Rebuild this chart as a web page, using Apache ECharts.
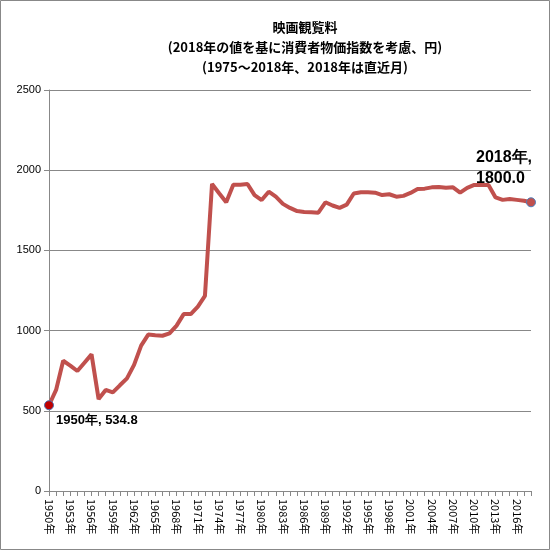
<!DOCTYPE html>
<html><head><meta charset="utf-8">
<script src="https://cdn.jsdelivr.net/npm/echarts@6/dist/echarts.min.js"></script>
<style>body{margin:0}#c{width:551px;height:551px}</style>
</head><body><div id="c"></div>
<script>
const years = [];
for (let y = 1950; y <= 2018; y++) years.push(y + "年");
const prices = [
  534.8, 630, 812, 782, 748, 800, 852, 573, 630, 615,
  659, 702, 786, 906, 975, 971, 968, 983, 1031, 1103,
  1103, 1149, 1216, 1914, 1856, 1800, 1909, 1910, 1914, 1845,
  1814, 1866, 1835, 1790, 1765, 1745, 1740, 1738, 1735, 1800,
  1780, 1765, 1785, 1855, 1862, 1862, 1860, 1845, 1850, 1835,
  1840, 1858, 1883, 1885, 1893, 1895, 1890, 1893, 1860, 1890,
  1908, 1908, 1908, 1830, 1815, 1820, 1815, 1810, 1800.0
];
const titleLines = ["映画観覧料", "(2018年の値を基に消費者物価指数を考慮、円)", "(1975～2018年、2018年は直近月)"];

const chart = echarts.init(document.getElementById("c"));
const last = prices.length - 1;
chart.setOption({
  animation: false,
  backgroundColor: "#fff",
  graphic: [{ type: "rect", shape: { x: 0.5, y: 0.5, width: 549, height: 549 }, style: { fill: "none", stroke: "#888" } }],
  title: {
    text: titleLines.join("\n"), left: 300, top: 12, textAlign: "center",
    textStyle: { fontSize: 13, fontWeight: "bold", color: "#000", lineHeight: 20, fontFamily: "Noto Sans CJK JP" }
  },
  grid: { left: 49, right: 20, top: 90, bottom: 60 },
  xAxis: {
    type: "category", data: years, boundaryGap: false,
    axisLine: { lineStyle: { color: "#888" } },
    axisTick: { interval: 0, lineStyle: { color: "#888" } },
    axisLabel: { interval: 2, rotate: -90, color: "#000", fontSize: 11, fontFamily: "Noto Sans CJK JP" }
  },
  yAxis: {
    type: "value", min: 0, max: 2500, interval: 500,
    axisLine: { show: true, lineStyle: { color: "#888" } },
    axisTick: { show: true, lineStyle: { color: "#888" } },
    splitLine: { lineStyle: { color: "#888" } },
    axisLabel: { color: "#000", fontSize: 11, formatter: v => String(v) }
  },
  series: [{
    type: "line", showAllSymbol: true, clip: false,
    data: prices.map((v, i) => {
      if (i === 0) return { value: v, symbol: "circle", symbolSize: 9, itemStyle: { color: "#c00000", borderColor: "#4f6fb0", borderWidth: 1 },
        label: { show: true, position: [12, 14], formatter: "1950年, 534.8", fontSize: 13, fontWeight: "bold", color: "#000" } };
      if (i === last) return { value: v, symbol: "circle", symbolSize: 9, itemStyle: { color: "#c0504d", borderColor: "#4f81bd", borderWidth: 1 },
        label: { show: true, position: [-50, -50], formatter: "2018年,\n1800.0", fontSize: 16, fontWeight: "bold", color: "#000", lineHeight: 21 } };
      return { value: v, symbol: "none" };
    }),
    lineStyle: { color: "#c0504d", width: 4 }
  }]
});
</script></body></html>
